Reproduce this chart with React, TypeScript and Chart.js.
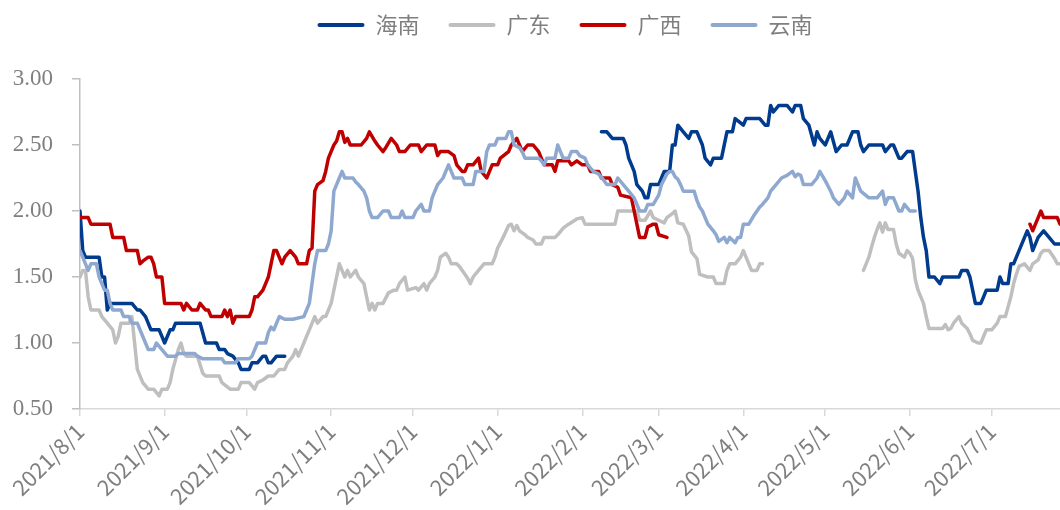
import React, { useEffect, useRef } from 'react';
import { Chart, registerables } from 'chart.js';

Chart.register(...registerables);

// ---- data (x = days since 2021/8/1) ----
const SERIES_NAMES = ['海南', '广东', '广西', '云南'];
const SERIES_COLORS = ['#003B8E', '#BFBFBF', '#C00000', '#8EA8CF'];

const MONTH_TICK_DAYS = [0, 31, 61, 92, 122, 153, 184, 212, 243, 273, 304, 334];
const MONTH_TICK_LABELS = [
  '2021/8/1', '2021/9/1', '2021/10/1', '2021/11/1', '2021/12/1', '2022/1/1',
  '2022/2/1', '2022/3/1', '2022/4/1', '2022/5/1', '2022/6/1', '2022/7/1',
];
const X_MAX_DAY = 359;
const Y_TICKS = [0.5, 1.0, 1.5, 2.0, 2.5, 3.0];

const hainanDays = [
  0, 1, 2, 7, 8, 9, 10, 11, 19, 21, 22, 24, 26, 29, 30, 31, 33, 34, 35, 44, 46, 50, 51, 53, 54, 56, 58, 59, 62, 63, 65, 67, 68, 69, 70, 72, 75,
  133,
  191, 193, 195, 199, 200, 201, 203, 204, 206, 207, 208, 209, 212, 214, 216, 217, 218, 219, 221, 223, 224, 226, 228, 229, 231, 232, 235, 237, 239, 240,
  243, 244, 249, 251, 252, 253, 254, 256, 259, 261, 262, 264, 265, 267, 269, 270, 271, 273, 275, 277, 279, 281, 282, 283, 285, 286, 287, 289, 294, 295,
  297, 298, 300, 301, 303, 305, 306, 307, 308, 309, 310, 311, 313, 315, 316, 322, 323, 325, 326, 327, 328, 330, 331, 332, 336, 337, 338, 340, 341, 342,
  344, 347, 348, 349, 351, 353, 355, 357, 359,
];
const hainanValues = [
  2.0, 1.7, 1.65, 1.65, 1.5, 1.5, 1.25, 1.3, 1.3, 1.25, 1.25, 1.2, 1.1, 1.1, 1.05, 1.0, 1.1, 1.1, 1.15, 1.15, 1.0, 1.0, 0.95, 0.95, 0.92, 0.9, 0.85, 0.8, 0.8, 0.85, 0.85, 0.9, 0.9, 0.85, 0.85, 0.9, 0.9,
  null,
  2.6, 2.6, 2.55, 2.55, 2.5, 2.4, 2.3, 2.2, 2.15, 2.1, 2.1, 2.2, 2.2, 2.3, 2.3, 2.5, 2.5, 2.65, 2.6, 2.55, 2.6, 2.6, 2.5, 2.4, 2.35, 2.4, 2.4, 2.6, 2.6, 2.7,
  2.65, 2.7, 2.7, 2.65, 2.65, 2.8, 2.75, 2.8, 2.8, 2.75, 2.8, 2.8, 2.7, 2.65, 2.5, 2.6, 2.55, 2.5, 2.6, 2.45, 2.5, 2.5, 2.55, 2.6, 2.6, 2.5, 2.45, 2.5, 2.5, 2.45,
  2.5, 2.5, 2.4, 2.4, 2.45, 2.45, 2.3, 2.15, 1.95, 1.8, 1.7, 1.5, 1.5, 1.45, 1.5, 1.5, 1.55, 1.55, 1.5, 1.4, 1.3, 1.3, 1.35, 1.4, 1.4, 1.5, 1.45, 1.45, 1.6, 1.6,
  1.7, 1.85, 1.8, 1.7, 1.8, 1.85, 1.8, 1.75, 1.75,
];

const guangdongDays = [
  0, 1, 2, 3, 4, 7, 8, 10, 12, 13, 14, 15, 18, 19, 20, 21, 23, 25, 27, 29, 30, 32, 33, 34, 36, 37, 38, 39, 43, 45, 46, 51, 52, 55, 58, 59, 62, 64, 65, 67,
  69, 71, 73, 75, 76, 78, 79, 80, 82, 83, 84, 86, 87, 89, 90, 92, 93, 94, 95, 97, 98, 99, 101, 102, 104, 105, 106, 107, 108, 109, 111, 113, 115, 116, 117, 119, 120, 123, 124, 126,
  127, 128, 130, 131, 132, 134, 135, 136, 138, 139, 141, 142, 143, 144, 146, 148, 151, 152, 153, 155, 157, 158, 159, 160, 161, 163, 164, 166, 167, 169, 170, 174, 175, 177, 179, 182,
  184, 185, 196, 197, 204, 205, 207, 209, 210, 212, 214, 215, 217, 218, 219, 221, 223, 224, 226, 227, 230, 232, 233, 236, 237, 238, 240, 242, 243, 245, 246, 248, 249, 250,
  268,
  287, 289, 290, 291, 292, 293, 294, 295, 296, 298, 299, 300, 302, 303, 304, 305, 306, 307, 309, 310, 311, 316, 317, 318, 319, 320, 322, 323, 325, 326, 327, 329, 330, 332, 334, 336,
  337, 339, 341, 342, 343, 344, 346, 348, 349, 351, 352, 353, 355, 357, 358, 359,
];
const guangdongValues = [
  1.5, 1.55, 1.55, 1.35, 1.25, 1.25, 1.2, 1.15, 1.1, 1.0, 1.05, 1.15, 1.15, 1.2, 1.0, 0.8, 0.7, 0.65, 0.65, 0.6, 0.65, 0.65, 0.7, 0.8, 0.95, 1.0, 0.92, 0.9, 0.9, 0.77, 0.75, 0.75, 0.7, 0.65, 0.65, 0.7, 0.7, 0.65, 0.7, 0.72,
  0.75, 0.75, 0.8, 0.8, 0.85, 0.9, 0.95, 0.9, 1.0, 1.05, 1.1, 1.2, 1.15, 1.2, 1.2, 1.3, 1.4, 1.5, 1.6, 1.5, 1.55, 1.5, 1.55, 1.5, 1.45, 1.35, 1.25, 1.3, 1.25, 1.3, 1.3, 1.38, 1.4, 1.4, 1.45, 1.5, 1.4, 1.42, 1.4, 1.45,
  1.4, 1.45, 1.5, 1.55, 1.65, 1.68, 1.65, 1.6, 1.6, 1.58, 1.52, 1.49, 1.45, 1.5, 1.55, 1.6, 1.6, 1.65, 1.72, 1.8, 1.89, 1.9, 1.85, 1.89, 1.85, 1.82, 1.8, 1.78, 1.75, 1.75, 1.8, 1.8, 1.82, 1.87, 1.9, 1.94,
  1.95, 1.9, 1.9, 2.0, 2.0, 1.93, 1.93, 2.0, 1.95, 1.93, 1.91, 1.95, 1.98, 2.0, 1.91, 1.9, 1.81, 1.69, 1.64, 1.52, 1.5, 1.5, 1.45, 1.45, 1.55, 1.6, 1.6, 1.65, 1.7, 1.6, 1.55, 1.55, 1.6, 1.6,
  null,
  1.55, 1.65, 1.73, 1.8, 1.86, 1.91, 1.84, 1.91, 1.86, 1.86, 1.75, 1.68, 1.65, 1.7, 1.68, 1.64, 1.48, 1.4, 1.3, 1.2, 1.11, 1.11, 1.14, 1.1, 1.11, 1.15, 1.2, 1.15, 1.11, 1.07, 1.02, 1.0, 1.0, 1.1, 1.1, 1.15,
  1.2, 1.2, 1.35, 1.45, 1.52, 1.58, 1.6, 1.55, 1.6, 1.63, 1.68, 1.7, 1.7, 1.64, 1.6, 1.6,
];

const guangxiDays = [
  0, 3, 4, 11, 12, 16, 17, 21, 22, 23, 25, 26, 27, 28, 30, 31, 37, 38, 39, 41, 43, 44, 46, 47, 48, 52, 53, 54, 55, 56, 57, 62, 63, 64, 65, 67, 68, 69, 70, 71,
  72, 74, 75, 77, 79, 80, 83, 84, 85, 86, 87, 89, 90, 91, 93, 94, 95, 96, 97, 98, 99, 103, 105, 106, 108, 109, 111, 112, 114, 116, 117, 119, 121, 124, 125, 127, 130, 131, 132, 135,
  137, 138, 140, 141, 142, 144, 146, 147, 149, 150, 151, 153, 154, 157, 158, 160, 161, 162, 164, 166, 168, 169, 170, 173, 174, 175, 179, 180, 182, 184, 186, 187, 190, 191, 194, 195,
  197, 198, 202, 203, 204, 205, 207, 208, 210, 211, 212, 215,
  280,
  348, 349, 350, 351, 352, 353, 358, 359,
];
const guangxiValues = [
  1.95, 1.95, 1.9, 1.9, 1.8, 1.8, 1.7, 1.7, 1.6, 1.62, 1.65, 1.65, 1.6, 1.5, 1.5, 1.3, 1.3, 1.25, 1.3, 1.25, 1.25, 1.3, 1.25, 1.25, 1.2, 1.2, 1.25, 1.2, 1.25, 1.15, 1.2, 1.2, 1.25, 1.35, 1.35, 1.4, 1.45, 1.5, 1.6, 1.7,
  1.7, 1.6, 1.65, 1.7, 1.65, 1.6, 1.6, 1.7, 1.72, 2.15, 2.2, 2.23, 2.3, 2.4, 2.5, 2.53, 2.6, 2.6, 2.52, 2.55, 2.5, 2.5, 2.55, 2.6, 2.53, 2.5, 2.45, 2.48, 2.55, 2.5, 2.45, 2.45, 2.5, 2.5, 2.45, 2.5, 2.5, 2.42, 2.45, 2.45,
  2.42, 2.35, 2.3, 2.3, 2.35, 2.35, 2.4, 2.3, 2.25, 2.3, 2.35, 2.35, 2.4, 2.45, 2.5, 2.55, 2.5, 2.45, 2.5, 2.5, 2.45, 2.4, 2.35, 2.35, 2.3, 2.38, 2.38, 2.35, 2.38, 2.35, 2.35, 2.3, 2.3, 2.25, 2.25, 2.2,
  2.18, 2.12, 2.1, 2.0, 1.9, 1.8, 1.8, 1.88, 1.9, 1.9, 1.82, 1.8,
  null,
  1.9, 1.85, 1.9, 1.95, 2.0, 1.95, 1.95, 1.9,
];

const yunnanDays = [
  0, 1, 2, 3, 4, 6, 7, 9, 10, 11, 12, 15, 16, 18, 19, 21, 22, 24, 25, 27, 28, 30, 32, 35, 36, 42, 43, 45, 52, 53, 57, 58, 62, 63, 64, 65, 68, 69, 70, 71,
  72, 73, 75, 78, 82, 83, 84, 85, 86, 87, 90, 91, 92, 93, 95, 96, 97, 100, 101, 102, 104, 105, 106, 107, 109, 111, 113, 114, 117, 118, 119, 122, 123, 125, 126, 128, 129, 130, 131, 133,
  134, 135, 136, 137, 140, 141, 144, 145, 148, 149, 150, 152, 153, 156, 157, 158, 159, 161, 162, 163, 168, 169, 170, 171, 174, 175, 176, 177, 179, 180, 182, 183, 185, 186, 188, 190,
  192, 193, 196, 197, 199, 201, 203, 205, 207, 208, 210, 212, 213, 215, 216, 217, 218, 219, 220, 221, 225, 226, 227, 228, 229, 230, 232, 233, 234, 236, 237, 238, 240, 241, 242, 243,
  245, 247, 249, 250, 252, 253, 255, 257, 259, 261, 262, 263, 264, 265, 268, 270, 271, 273, 275, 276, 278, 280, 281, 283, 284, 286, 289, 292, 294, 295, 296, 298, 300, 301, 302, 304, 306,
];
const yunnanValues = [
  1.7, 1.65, 1.6, 1.55, 1.6, 1.6, 1.5, 1.4, 1.4, 1.3, 1.25, 1.25, 1.2, 1.2, 1.15, 1.15, 1.1, 1.0, 0.95, 0.95, 1.0, 0.95, 0.9, 0.9, 0.92, 0.92, 0.9, 0.88, 0.88, 0.85, 0.85, 0.88, 0.88, 0.9, 0.95, 1.0, 1.0, 1.08, 1.12, 1.1,
  1.15, 1.2, 1.18, 1.18, 1.2, 1.25, 1.3, 1.45, 1.6, 1.7, 1.7, 1.75, 1.85, 2.15, 2.25, 2.3, 2.25, 2.25, 2.22, 2.2, 2.15, 2.1, 2.0, 1.95, 1.95, 2.0, 2.0, 1.95, 1.95, 2.0, 1.95, 1.95, 2.0, 2.05, 2.0, 2.0, 2.1, 2.15, 2.2, 2.25,
  2.3, 2.35, 2.3, 2.25, 2.25, 2.2, 2.2, 2.3, 2.3, 2.45, 2.5, 2.5, 2.55, 2.55, 2.6, 2.6, 2.5, 2.48, 2.45, 2.4, 2.4, 2.38, 2.35, 2.4, 2.4, 2.5, 2.45, 2.4, 2.4, 2.45, 2.45, 2.42, 2.4, 2.35, 2.3, 2.28,
  2.23, 2.2, 2.2, 2.25, 2.2, 2.15, 2.1, 2.0, 2.0, 2.05, 2.05, 2.12, 2.2, 2.28, 2.3, 2.3, 2.26, 2.24, 2.2, 2.15, 2.15, 2.08, 2.03, 2.0, 1.95, 1.9, 1.85, 1.82, 1.77, 1.8, 1.76, 1.8, 1.76, 1.8, 1.8, 1.9,
  1.9, 1.97, 2.03, 2.05, 2.1, 2.15, 2.2, 2.25, 2.27, 2.3, 2.26, 2.28, 2.27, 2.2, 2.2, 2.25, 2.3, 2.23, 2.15, 2.1, 2.05, 2.1, 2.15, 2.1, 2.25, 2.15, 2.1, 2.1, 2.15, 2.05, 2.1, 2.1, 2.0, 2.0, 2.05, 2.0, 2.0,
];

const SERIES_DAYS = [hainanDays, guangdongDays, guangxiDays, yunnanDays];
const SERIES_VALUES = [hainanValues, guangdongValues, guangxiValues, yunnanValues];

// ---- layout tuning ----
const LEGEND_SHIFT_X = 35;
const LEGEND_SHIFT_Y = -33;
const AXIS_GRAY = '#BFBFBF';
const TEXT_GRAY = '#7F7F7F';

const legendShift = {
  id: 'legendShift',
  afterLayout(chart: any) {
    const lg = chart.legend;
    if (!lg) return;
    lg.left += LEGEND_SHIFT_X;
    lg.right += LEGEND_SHIFT_X;
    lg.top += LEGEND_SHIFT_Y;
    lg.bottom += LEGEND_SHIFT_Y;
  },
};

export default function App() {
  const canvasRef = useRef<HTMLCanvasElement | null>(null);

  useEffect(() => {
    const canvas = canvasRef.current;
    if (!canvas) return;
    const datasets = SERIES_NAMES.map((name, i) => ({
      label: name,
      data: SERIES_DAYS[i].map((d, k) => ({ x: d, y: SERIES_VALUES[i][k] })),
      borderColor: SERIES_COLORS[i],
      backgroundColor: SERIES_COLORS[i],
      borderWidth: 3.5,
      pointRadius: 0,
      tension: 0,
      spanGaps: false,
      borderJoinStyle: 'round' as const,
      borderCapStyle: 'round' as const,
      order: SERIES_NAMES.length - i,
    }));

    const chart = new Chart(canvas, {
      type: 'line',
      data: { datasets },
      options: {
        animation: false,
        responsive: false,
        layout: { padding: { top: 18, left: 0, right: 0, bottom: 0 } },
        plugins: {
          tooltip: { enabled: false },
          legend: {
            position: 'top',
            align: 'center',
            labels: {
              boxWidth: 47,
              boxHeight: 4,
              padding: 29,
              useBorderRadius: true,
              borderRadius: 2,
              color: TEXT_GRAY,
              font: { family: '"Noto Sans CJK SC", sans-serif', size: 22 },
              generateLabels: (ch: any) =>
                ch.data.datasets.map((ds: any, i: number) => ({
                  text: ds.label,
                  fillStyle: ds.borderColor,
                  strokeStyle: ds.borderColor,
                  lineWidth: 0,
                  hidden: false,
                  datasetIndex: i,
                  fontColor: TEXT_GRAY,
                  borderRadius: 2,
                })),
            },
          },
        },
        scales: {
          x: {
            type: 'linear',
            min: 0,
            max: X_MAX_DAY,
            afterBuildTicks: (scale: any) => {
              scale.ticks = MONTH_TICK_DAYS.map((v) => ({ value: v }));
            },
            afterFit: (scale: any) => {
              scale.height = 101;
              scale.paddingLeft = 0;
              scale.paddingRight = 0;
            },
            ticks: {
              autoSkip: false,
              maxRotation: 45,
              minRotation: 45,
              padding: 2,
              color: TEXT_GRAY,
              font: { family: '"Noto Sans CJK SC", sans-serif', size: 22 },
              callback: (v: any) => {
                const idx = MONTH_TICK_DAYS.indexOf(Number(v));
                return idx >= 0 ? MONTH_TICK_LABELS[idx] : '';
              },
            },
            grid: { drawOnChartArea: false, drawTicks: true, tickLength: 7, color: '#D9D9D9', lineWidth: 1.5 },
            border: { display: true, color: '#D9D9D9', width: 1.5 },
          },
          y: {
            type: 'linear',
            min: 0.5,
            max: 3,
            afterBuildTicks: (scale: any) => {
              scale.ticks = Y_TICKS.map((v) => ({ value: v }));
            },
            afterFit: (scale: any) => {
              scale.width = 80;
            },
            ticks: {
              padding: 19,
              color: TEXT_GRAY,
              font: { family: '"Liberation Serif", "Times New Roman", serif', size: 23 },
              callback: (v: any) => Number(v).toFixed(2),
            },
            grid: { drawOnChartArea: false, drawTicks: true, tickLength: 8, color: AXIS_GRAY, lineWidth: 1.5 },
            border: { display: true, color: AXIS_GRAY, width: 1.5 },
          },
        },
      },
      plugins: [legendShift],
    });

    return () => chart.destroy();
  }, []);

  return (
    <div style={{ position: 'fixed', left: 0, top: 0, width: 1060, height: 510, background: '#ffffff' }}>
      <canvas ref={canvasRef} width={1060} height={510} style={{ display: 'block', width: 1060, height: 510 }} />
    </div>
  );
}
